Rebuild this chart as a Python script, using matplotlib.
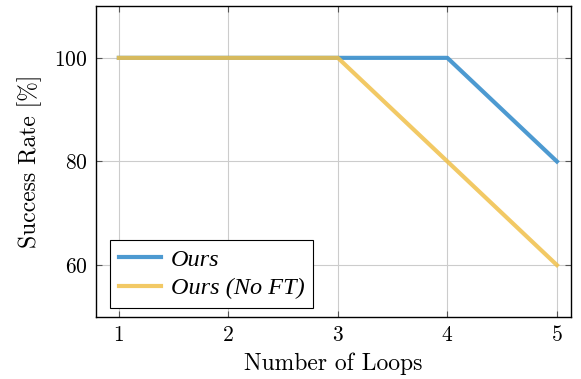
import matplotlib.pyplot as plt

loops = [1, 2, 3, 4, 5]
ours = [100, 100, 100, 100, 80]
ours_no_ft = [100, 100, 100, 80, 60]
y_ticks = [60, 80, 100]

plt.rcParams["font.family"] = ["cmr10", "DejaVu Serif"]
plt.rcParams["axes.formatter.use_mathtext"] = True

fig = plt.figure(figsize=(5.81, 3.79), dpi=100)
ax = fig.add_axes([0.165, 0.164, 0.818, 0.820])

ax.plot(loops, ours, color="#3a8fcc", linewidth=3, alpha=0.9, label="Ours", zorder=3)
ax.plot(loops, ours_no_ft, color="#f0c04a", linewidth=3, alpha=0.85, label="Ours (No FT)", zorder=4)

ax.set_xlim(0.79, 5.13)
ax.set_ylim(50, 110)
ax.set_xticks(loops)
ax.set_yticks(y_ticks)
ax.grid(True, color="#cccccc", linewidth=0.8)
ax.set_axisbelow(True)
ax.tick_params(direction="in", top=True, right=True, labelsize=15.5, length=4, color="#555555", pad=6)
for s in ax.spines.values():
    s.set_linewidth(1.0)

ax.set_xlabel("Number of Loops", fontsize=17, labelpad=5)
ax.set_ylabel("Success Rate [%]", fontsize=17, labelpad=9)

leg = ax.legend(loc="lower left", bbox_to_anchor=(0.03, 0.03), borderaxespad=0,
                prop={"family": "Liberation Serif", "size": 17.5, "style": "italic"},
                frameon=True, fancybox=False, edgecolor="black", framealpha=1,
                handlelength=1.75, handletextpad=0.4, labelspacing=0.25, borderpad=0.35)
leg.get_frame().set_linewidth(0.8)

fig.savefig("out.png", dpi=100, facecolor="white")
